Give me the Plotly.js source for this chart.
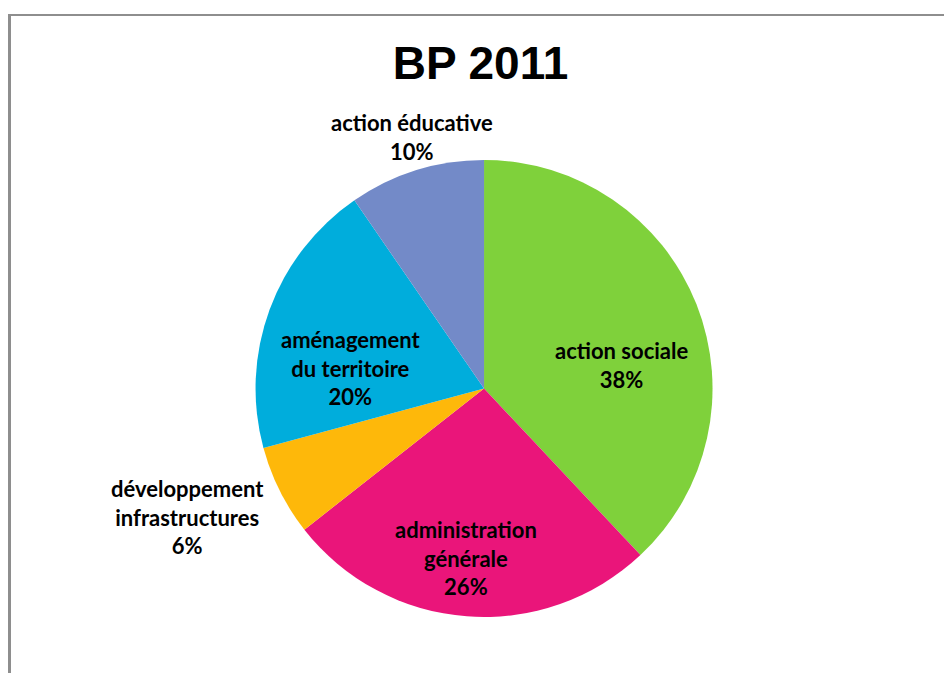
<!DOCTYPE html>
<html>
<head>
<meta charset="utf-8">
<script src="https://cdn.plot.ly/plotly-3.0.1.min.js"></script>
<style>
  html, body { margin: 0; padding: 0; background: #fff; overflow: hidden; }
  #frame { position: absolute; left: 8px; top: 14px; width: 940px; height: 665px;
           border-top: 2px solid #8e8e8e; border-left: 3px solid #8e8e8e; box-sizing: border-box; }
  #chart { position: absolute; left: 0; top: 0; width: 944px; height: 673px; }
</style>
</head>
<body>
<div id="frame"></div>
<div id="chart"></div>
<script>
const title = "BP 2011";
const categories = [
  "action sociale",
  "administration<br>générale",
  "développement<br>infrastructures",
  "aménagement<br>du territoire",
  "action éducative"
];
const shares = [38.0, 26.4, 6.4, 19.6, 9.6];
const colors = ["#7FD13B", "#EA157A", "#FEB80A", "#00ADDC", "#738AC8"];

// label block centres, in pixels of the 944x673 page (layout only)
const W = 944, H = 673;
const labelCentres = [[621, 365], [466, 558], [187, 517], [351, 368], [412, 137]];

const labelFont = { family: "Lato, 'Open Sans', sans-serif", size: 22, color: "#000" };

const total = shares.reduce((a, b) => a + b, 0);

const trace = {
  type: "pie",
  labels: categories,
  values: shares,
  sort: false,
  direction: "clockwise",
  rotation: 0,
  marker: { colors: colors, line: { width: 0 } },
  textinfo: "none",
  hoverinfo: "none",
  showlegend: false,
  domain: { x: [0.2707, 0.7548], y: [0.0832, 0.7623] }
};

const annotations = categories.map((c, i) => ({
  text: "<b>" + c + "<br>" + Math.round(shares[i] / total * 100) + "%</b>",
  xref: "paper", yref: "paper",
  x: labelCentres[i][0] / W,
  y: 1 - labelCentres[i][1] / H,
  xanchor: "center", yanchor: "middle",
  align: "center",
  showarrow: false,
  font: labelFont
}));

const layout = {
  width: W, height: H,
  margin: { l: 0, r: 0, t: 0, b: 0 },
  paper_bgcolor: "rgba(0,0,0,0)",
  plot_bgcolor: "rgba(0,0,0,0)",
  title: {
    text: "<b>" + title + "</b>",
    font: { family: "'Liberation Sans', Arial, sans-serif", size: 46, color: "#000" },
    x: 0.509, xanchor: "center",
    y: 0.906, yref: "container", yanchor: "middle"
  },
  annotations: annotations,
  showlegend: false
};

Plotly.newPlot("chart", [trace], layout, { staticPlot: true, displayModeBar: false });
</script>
</body>
</html>
